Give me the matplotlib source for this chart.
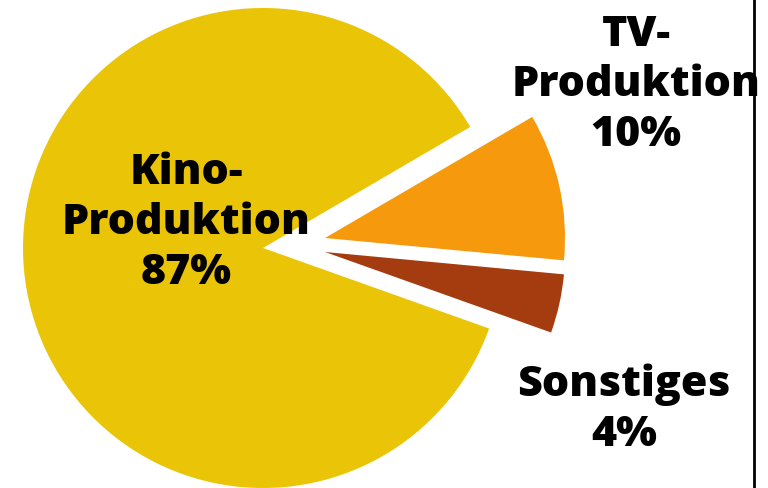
import matplotlib
matplotlib.use("Agg")
import matplotlib.pyplot as plt

# shares of the production budget
labels = ["Kino-\nProduktion", "Sonstiges", "TV-\nProduktion"]
shares = [87, 4, 10]
colors = ["#EAC406", "#A53C10", "#F7990C"]

# label centres (pixel coords, y up) and wedge tip offsets
label_pos = [(186, 265), (624, 78), (636, 403)]
offsets = [(0, 0), (62, -4), (62, 10)]

fig = plt.figure(figsize=(7.68, 4.88), dpi=100)
ax = fig.add_axes([0, 0, 1, 1])

cx, cy, r = 263, 240, 240
wedges, _ = ax.pie(shares, colors=colors, startangle=30.3, counterclock=True,
                   radius=r, center=(cx, cy), frame=True,
                   wedgeprops=dict(linewidth=0))
for w, (dx, dy) in zip(wedges, offsets):
    w.set_center((cx + dx, cy + dy))

ax.set_xlim(0, 768)
ax.set_ylim(0, 488)
ax.set_aspect("equal")
ax.axis("off")

# vertical rule on the right
ax.plot([754, 754], [0, 488], color="black", lw=2, zorder=1)

for lab, val, (x, y) in zip(labels, shares, label_pos):
    ax.text(x, y, f"{lab}\n{val}%", family=["Open Sans", "DejaVu Sans"],
            fontweight=800, fontsize=31, ha="center", va="center",
            linespacing=1.26, zorder=5)

fig.savefig("out.png", dpi=100)
